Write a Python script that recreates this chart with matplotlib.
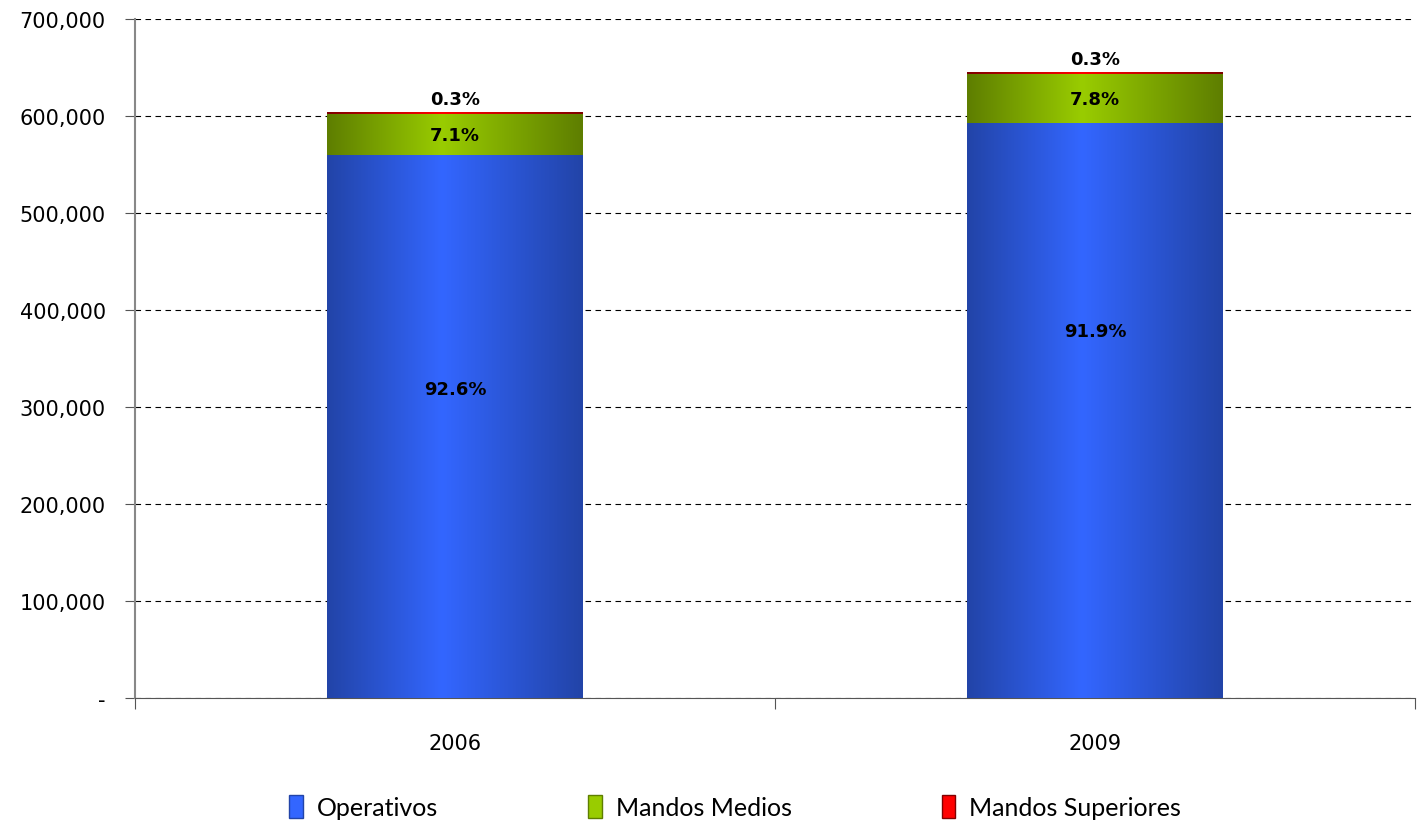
import matplotlib
matplotlib.use("Agg")
import matplotlib.pyplot as plt
import numpy as np
from matplotlib.colors import LinearSegmentedColormap
from matplotlib.patches import Rectangle

# data
years = ["2006", "2009"]
operativos = [559300, 592800]
mandos_medios = [42900, 50300]
mandos_superiores = [1800, 1900]
pct_oper = ["92.6%", "91.9%"]
pct_medios = ["7.1%", "7.8%"]
pct_sup = ["0.3%", "0.3%"]
oper_label_y = [318500, 378000]

series = [
    ("Operativos", operativos, ("#2244A8", "#3366FF")),
    ("Mandos Medios", mandos_medios, ("#5E7E00", "#99CC00")),
    ("Mandos Superiores", mandos_superiores, ("#800000", "#FF0000")),
]

fig = plt.figure(figsize=(14.22, 8.29), dpi=100)
ax = fig.add_axes([135 / 1422, 1 - 699 / 829, 1280 / 1422, 679 / 829])

x = np.arange(len(years))
width = 0.40
bottom = np.zeros(len(years))
grad = np.linspace(0, 1, 256)
profile = np.interp(grad, [0, 0.45, 1], [0, 1, 0])[None, :]

handles = []
for name, vals, (dark, light) in series:
    cmap = LinearSegmentedColormap.from_list(name, [dark, light])
    bars = ax.bar(x, vals, width, bottom=bottom, color=light, zorder=2)
    for b in bars:
        xx, yy = b.get_x(), b.get_y()
        ax.imshow(profile, cmap=cmap, aspect="auto", zorder=3,
                  extent=[xx, xx + b.get_width(), yy, yy + b.get_height()],
                  interpolation="bilinear")
    handles.append(Rectangle((0, 0), 1, 1, facecolor=light, edgecolor=dark))
    bottom += np.array(vals)

totals = bottom
lab = dict(ha="center", fontsize=13, fontweight="bold", zorder=5)
for i in range(len(years)):
    ax.text(x[i], oper_label_y[i], pct_oper[i], va="center", **lab)
    ax.text(x[i], operativos[i] + mandos_medios[i] / 2, pct_medios[i],
            va="center", **lab)
    ax.text(x[i], totals[i] + 4000, pct_sup[i], va="bottom", **lab)

ax.set_xlim(-0.5, 1.5)
ax.set_ylim(0, 700000)
ax.set_yticks(np.arange(0, 700001, 100000))
ax.set_yticklabels(["-"] + [f"{v:,}" for v in range(100000, 700001, 100000)],
                   fontsize=15)
ax.yaxis.grid(True, linestyle=(0, (5, 4)), color="black", linewidth=0.8, zorder=0)
ax.set_axisbelow(True)

ax.set_xticks([-0.5, 0.5, 1.5])
ax.set_xticklabels([])
ax.set_xticks(x, minor=True)
ax.set_xticklabels(years, minor=True, fontsize=15)
ax.tick_params(axis="x", which="minor", length=0, pad=25)
ax.tick_params(axis="x", which="major", length=8, color="#555555")
ax.tick_params(axis="y", length=7, color="#555555", pad=14)

for s in ["top", "right"]:
    ax.spines[s].set_visible(False)
ax.spines["left"].set_color("#888888")
ax.spines["bottom"].set_color("#555555")
ax.spines["left"].set_linewidth(1.5)

fig.legend(handles, [s[0] for s in series], loc="center", ncol=3,
           bbox_to_anchor=(0.517, 1 - 808 / 829), frameon=False,
           handlelength=0.55, handleheight=1.0, handletextpad=0.55,
           columnspacing=6.0,
           prop={"family": ["Lato", "DejaVu Sans"], "size": 18})

fig.savefig("out.png", dpi=100)
